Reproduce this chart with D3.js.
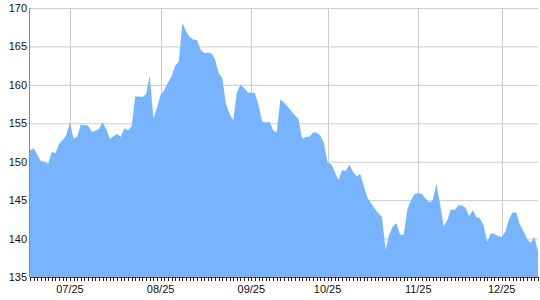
<!DOCTYPE html>
<html><head><meta charset="utf-8">
<script src="https://cdn.jsdelivr.net/npm/d3@7"></script>
<style>body{margin:0;background:#fff}svg{display:block}</style>
</head><body>
<svg id="c" width="540" height="300"></svg>
<script>
const values = [
151.5,151.75,150.9,150.1,150.0,149.7,151.3,151.1,152.3,152.8,
153.5,155.1,153.0,153.25,154.8,154.75,154.7,153.9,154.0,154.3,
155.1,154.25,153.0,153.3,153.6,153.25,154.35,154.05,154.6,158.5,
158.5,158.4,158.8,161.15,155.65,157.0,158.7,159.3,160.3,161.1,
162.5,163.0,168.0,167.0,166.2,165.9,165.8,164.6,164.1,164.2,
164.1,163.3,161.5,160.85,157.5,156.2,155.4,159.0,160.0,159.6,
159.0,159.0,158.9,157.3,155.2,155.1,155.2,154.1,153.8,158.1,
157.7,157.2,156.6,156.0,155.6,153.0,153.2,153.25,153.8,153.8,
153.4,152.4,149.9,149.7,148.7,147.6,148.9,148.8,149.6,148.7,
148.1,148.4,146.8,145.3,144.6,143.9,143.3,142.8,138.5,140.5,
141.6,142.0,140.5,140.5,143.8,145.0,145.8,145.9,145.8,145.2,
144.7,145.0,147.1,144.5,141.6,142.4,143.8,143.7,144.3,144.3,
144.0,142.9,143.7,142.8,142.6,141.7,139.6,140.7,140.6,140.3,
140.2,140.9,142.5,143.4,143.4,141.8,141.0,139.9,139.45,140.2,
138.3
];
const tickLabels = ["07/25","08/25","09/25","10/25","11/25","12/25"];
const tickIndex = [11, 36, 61, 82, 107, 130];
const yTicks = [135,140,145,150,155,160,165,170];

const svg = d3.select("#c");
const L = 30, R = 538, T = 8, B = 277;
const x = d3.scaleLinear().domain([0, values.length - 1]).range([L, R]);
const y = d3.scaleLinear().domain([135, 170]).range([B, T]);
const font = "'Liberation Sans', Arial, sans-serif";

// gridlines
svg.append("g").selectAll("line").data(yTicks.filter(v => v > 135)).join("line")
  .attr("x1", L).attr("x2", R).attr("y1", d => y(d) + 0.5).attr("y2", d => y(d) + 0.5)
  .attr("stroke", "#cccccc").attr("stroke-width", 1);
svg.append("g").selectAll("line").data(tickIndex).join("line")
  .attr("x1", d => Math.round(x(d)) + 0.5).attr("x2", d => Math.round(x(d)) + 0.5)
  .attr("y1", T).attr("y2", B)
  .attr("stroke", "#cccccc").attr("stroke-width", 1);

// area
const area = d3.area().x((d, i) => x(i)).y0(y(135)).y1(d => y(d));
svg.append("path").datum(values).attr("d", area).attr("fill", "#78b4fe");

// axes lines
svg.append("line").attr("x1", L - 0.5).attr("x2", L - 0.5).attr("y1", T).attr("y2", B)
  .attr("stroke", "#888").attr("stroke-width", 1);
svg.append("line").attr("x1", L).attr("x2", R + 1).attr("y1", B + 0.5).attr("y2", B + 0.5)
  .attr("stroke", "#444").attr("stroke-width", 1);

// x minor ticks for every point
svg.append("g").selectAll("line").data(d3.range(values.length)).join("line")
  .attr("x1", i => Math.round(x(i)) + 0.5).attr("x2", i => Math.round(x(i)) + 0.5)
  .attr("y1", B).attr("y2", B + 4)
  .attr("stroke", "#222").attr("stroke-width", 1);

// x labels
svg.append("g").selectAll("text").data(tickIndex).join("text")
  .attr("x", d => x(d)).attr("y", 293)
  .attr("text-anchor", "middle").attr("font-family", font).attr("font-size", 11)
  .attr("fill", "#111").text((d, i) => tickLabels[i]);

// y labels
svg.append("g").selectAll("text").data(yTicks).join("text")
  .attr("x", 27).attr("y", d => y(d) + 4)
  .attr("text-anchor", "end").attr("font-family", font).attr("font-size", 11)
  .attr("fill", "#111").text(d => d);
</script>
</body></html>
